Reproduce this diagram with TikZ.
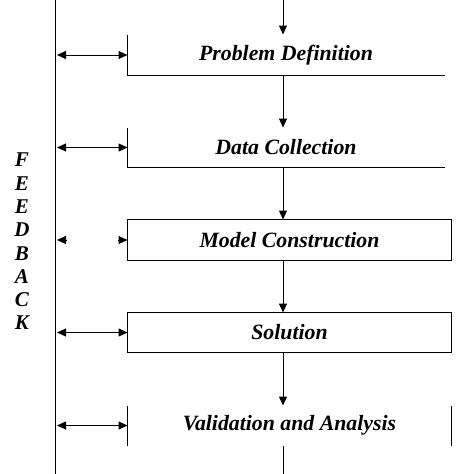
\documentclass[tikz,border=0pt]{standalone}
\usepackage{fontspec}
\setmainfont{Liberation Serif}
\usetikzlibrary{arrows.meta, positioning}

\begin{document}
\begin{tikzpicture}[x=1pt,y=-1pt,line width=1pt,
    stage/.style={inner sep=0pt, minimum height=40pt, font=\bfseries\itshape\fontsize{21.8}{24}\selectfont},
    tip/.style={-{Triangle[length=9pt,width=8pt]}},
    twotip/.style={{Triangle[length=9pt,width=8pt]}-{Triangle[length=9pt,width=8pt]}}]
    \useasboundingbox (0,0) rectangle (474,474);
    % stages
    \node[stage, minimum width=316pt] (pd) at (286,55) {Problem Definition};
    \node[stage, minimum width=316pt, minimum height=39pt] (dc) at (286,147.5) {Data Collection};
    \node[stage, minimum width=323pt] (mc) at (289.5,240) {Model Construction};
    \node[stage, minimum width=323pt, minimum height=39pt] (sol) at (289.5,332.5) {Solution};
    \node[stage, minimum width=323pt, minimum height=39pt] (va) at (289.5,425.5) {Validation and Analysis};
    \draw (pd.north west) -- (pd.south west) -- (pd.south east);
    \draw (dc.north west) -- (dc.south west) -- (dc.south east);
    \draw (mc.north west) rectangle (mc.south east);
    \draw (sol.north west) rectangle (sol.south east);
    \draw (va.north west) -- (va.south west);
    \draw (va.north east) -- (va.south east);
    % main flow
    \coordinate (in) at (283,0);
    \coordinate (out) at (283,474);
    \draw[tip] (in) -- (in |- pd.north);
    \draw[tip] (in |- pd.south) -- (in |- dc.north);
    \draw[tip] (in |- dc.south) -- (in |- mc.north);
    \draw[tip] (in |- mc.south) -- (in |- sol.north);
    \draw[tip] (in |- sol.south) -- (in |- va.north);
    \draw (in |- va.south) -- (out);
    % feedback
    \coordinate (fbtop) at (55,0);
    \coordinate (fbbot) at (55,474);
    \draw (fbtop) -- (fbbot);
    \node[font=\bfseries\itshape\fontsize{21}{23.3}\selectfont, align=center, inner sep=0pt] (fb) at (22,241.5) {F\\E\\E\\D\\B\\A\\C\\K};
    \foreach \s in {pd,dc,sol,va}
        \draw[twotip] ([xshift=2pt]fbtop |- \s.west) -- (\s.west);
    \draw[tip] ([xshift=12pt]fbtop |- mc.west) -- ([xshift=2pt]fbtop |- mc.west);
    \draw[tip] ([xshift=-10pt]mc.west) -- (mc.west);
\end{tikzpicture}
\end{document}
